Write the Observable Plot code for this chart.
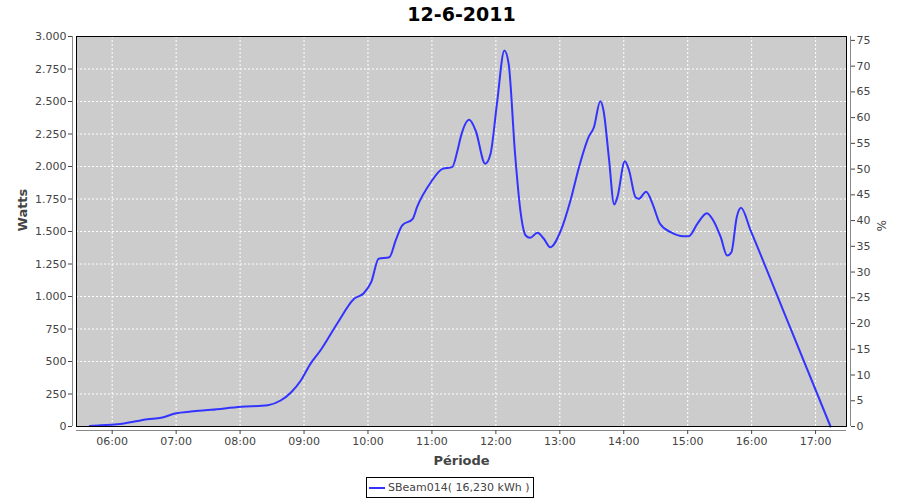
<!DOCTYPE html>
<html>
<head>
<meta charset="utf-8">
<script src="https://cdn.jsdelivr.net/npm/d3@7"></script>
<script src="https://cdn.jsdelivr.net/npm/@observablehq/plot@0.6"></script>
<style>
  html, body { margin: 0; padding: 0; background: white; }
  #wrap { position: relative; width: 900px; height: 500px; font-family: "DejaVu Sans", sans-serif; }
  #legend { position: absolute; left: 366px; top: 477px; width: 166px; height: 19px; border: 1px solid black;
            font-size: 11px; color: #444; display: flex; align-items: center; white-space: nowrap; background: white; }
  #legend .sw { display: inline-block; width: 16px; height: 2px; background: #3333ff; margin: 0 3px 0 2px; }
</style>
</head>
<body>
<div id="wrap"><div id="legend"><span class="sw"></span><span id="legtext"></span></div></div>
<script>
const title = "12-6-2011";
const yLabel = "Watts";
const y2Label = "%";
const xLabel = "Période";
const seriesName = "SBeam014( 16,230 kWh )";

const times = ["05:39","05:49","06:00","06:11","06:33","06:46","07:00","07:14","07:33","08:01","08:26","08:38","08:48","08:57","09:06","09:16","09:31","09:47","09:56","10:03","10:10","10:20","10:26","10:32","10:42","10:46","10:59","11:10","11:19","11:24","11:27","11:35","11:41","11:50","11:55","12:01","12:08","12:12","12:18","12:23","12:28","12:32","12:39","12:45","12:51","13:01","13:10","13:18","13:27","13:32","13:38","13:41","13:46","13:51","13:54","14:01","14:05","14:11","14:14","14:21","14:27","14:34","14:44","14:56","15:01","15:09","15:18","15:24","15:31","15:37","15:41","15:46","15:50","15:59","16:36","17:14"];
const watts = [3,10,13,23,56,68,102,115,128,151,164,200,264,354,482,592,790,982,1025,1110,1290,1302,1431,1546,1598,1687,1879,1982,1995,2123,2226,2359,2277,2021,2098,2482,2892,2790,2098,1661,1469,1451,1490,1444,1379,1508,1738,1995,2226,2302,2502,2431,2071,1708,1764,2041,1969,1764,1751,1805,1713,1559,1495,1464,1464,1559,1641,1585,1456,1315,1341,1610,1682,1508,764,0];

const wattTicks = [0,250,500,750,1000,1250,1500,1750,2000,2250,2500,2750,3000];
const pctTicks = [0,5,10,15,20,25,30,35,40,45,50,55,60,65,70,75];
const hourTicks = ["06:00","07:00","08:00","09:00","10:00","11:00","12:00","13:00","14:00","15:00","16:00","17:00"];
const xStart = "05:26:30", xEnd = "17:29:00";
const wattsPerPercent = 39.6;

const t = s => { const [h, m, sec] = s.split(":").map(Number); return new Date(Date.UTC(2011, 5, 12, h, m, sec || 0)); };
const data = times.map((s, i) => ({time: t(s), watts: watts[i]}));
const fmtW = d => d3.format(",")(d).replace(/,/g, ".");
const x0 = t(xStart), x1 = t(xEnd);

const chart = Plot.plot({
  width: 900, height: 500,
  marginLeft: 76, marginRight: 54, marginTop: 36, marginBottom: 74,
  style: {fontFamily: "DejaVu Sans, sans-serif", fontSize: "11px", background: "white", overflow: "visible"},
  x: {type: "utc", domain: [x0, x1]},
  y: {domain: [0, 3000]},
  marks: [
    Plot.frame({fill: "#cccccc", stroke: null}),
    Plot.gridY(wattTicks, {stroke: "white", strokeOpacity: 1, strokeDasharray: "2,2"}),
    Plot.gridX(hourTicks.map(t), {stroke: "white", strokeOpacity: 1, strokeDasharray: "2,2"}),
    Plot.line(data, {x: "time", y: "watts", stroke: "#3333ff", strokeWidth: 2, curve: "monotone-x"}),
    Plot.frame({stroke: "black", strokeWidth: 1}),
    Plot.ruleX([x0], {dx: -4, stroke: "#888"}),
    Plot.ruleX([x1], {dx: 4, stroke: "#888"}),
    Plot.ruleY([0], {dy: 4, stroke: "#888"}),
    Plot.axisY(wattTicks, {anchor: "left", tickFormat: fmtW, tickSize: 4, tickPadding: 2, dx: -4, color: "#444", label: null, fontSize: 11}),
    Plot.axisY(pctTicks.map(p => p * wattsPerPercent), {anchor: "right", tickFormat: (d, i) => String(pctTicks[i]), tickSize: 4, tickPadding: 2, dx: 4, color: "#444", label: null, fontSize: 11}),
    Plot.axisX(hourTicks.map(t), {anchor: "bottom", tickFormat: d3.utcFormat("%H:%M"), tickSize: 4, tickPadding: 3, dy: 4, color: "#444", label: null, fontSize: 11}),
    Plot.text([yLabel], {frameAnchor: "left", dx: -54, rotate: -90, fontWeight: "bold", fontSize: 13, fill: "#444"}),
    Plot.text([y2Label], {frameAnchor: "right", dx: 34, rotate: 90, fontSize: 12, fill: "#444"}),
    Plot.text([xLabel], {frameAnchor: "bottom", lineAnchor: "middle", dy: 34, fontWeight: "bold", fontSize: 13, fill: "#444"}),
    Plot.text([title], {frameAnchor: "top", lineAnchor: "middle", dy: -22, fontWeight: "bold", fontSize: 19, fill: "black"})
  ]
});
document.getElementById("wrap").prepend(chart);
document.getElementById("legtext").textContent = seriesName;
</script>
</body>
</html>
